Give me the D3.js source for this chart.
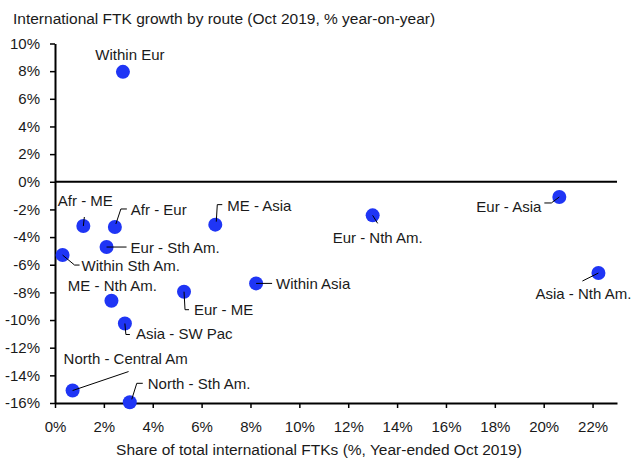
<!DOCTYPE html>
<html>
<head>
<meta charset="utf-8">
<script src="https://cdn.jsdelivr.net/npm/d3@7"></script>
<style>
  html, body { margin: 0; padding: 0; background: #fff; }
  svg { display: block; font-family: "Liberation Sans", Arial, sans-serif; }
</style>
</head>
<body>
<svg id="chart" width="634" height="460"></svg>
<script>
// ---- data ----
const routes = ["Within Eur", "Afr - ME", "Afr - Eur", "Eur - Sth Am.", "Within Sth Am.", "ME - Asia",
  "Eur - ME", "Within Asia", "ME - Nth Am.", "Asia - SW Pac", "North - Central Am", "North - Sth Am.",
  "Eur - Nth Am.", "Eur - Asia", "Asia - Nth Am."];
const share = [2.78, 1.16, 2.45, 2.11, 0.31, 6.56, 5.28, 8.23, 2.31, 2.86, 0.72, 3.06, 13.0, 20.64, 22.24];
const growth = [7.95, -3.2, -3.27, -4.72, -5.3, -3.1, -7.95, -7.35, -8.6, -10.25, -15.1, -15.95, -2.43, -1.1, -6.6];
const xTicks = [0, 2, 4, 6, 8, 10, 12, 14, 16, 18, 20, 22];
const yTicks = [-16, -14, -12, -10, -8, -6, -4, -2, 0, 2, 4, 6, 8, 10];
const title = "International FTK growth by route (Oct 2019, % year-on-year)";
const xTitle = "Share of total international FTKs (%, Year-ended Oct 2019)";

// ---- label layout (pixel offsets relative to point) ----
const labelLayout = [
  { dx: 7, dy: -12, anchor: "middle", leader: null },
  { dx: 2, dy: -20, anchor: "middle", leader: [[1, -9], [0, 0]] },
  { dx: 16, dy: -12, anchor: "start", leader: [[12, -18], [6, -18], [1, -3]] },
  { dx: 24, dy: 6, anchor: "start", leader: [[0, 0], [20, 0]] },
  { dx: 19, dy: 16, anchor: "start", leader: [[0, 0], [12, 10], [17, 10]] },
  { dx: 12, dy: -14, anchor: "start", leader: [[7, -20], [2, -20], [1, -3]] },
  { dx: 10, dy: 23, anchor: "start", leader: [[0, 0], [1, 18], [5, 18]] },
  { dx: 20, dy: 6, anchor: "start", leader: [[0, 0], [16, 0]] },
  { dx: 1, dy: -10, anchor: "middle", leader: null },
  { dx: 11, dy: 16, anchor: "start", leader: [[0, 0], [1, 11], [5, 11]] },
  { dx: -9, dy: -27, anchor: "start", leader: [[0, 0], [56, -19]] },
  { dx: 18, dy: -13, anchor: "start", leader: [[2, -3], [7, -19], [13, -19]] },
  { dx: -40, dy: 28, anchor: "start", leader: [[0, 0], [5, 8]] },
  { dx: -18, dy: 15, anchor: "end", leader: [[0, 0], [-8, 6], [-15, 6]] },
  { dx: -15, dy: 26, anchor: "middle", leader: [[0, 0], [-16, 8]] }
];

const svg = d3.select("#chart");
const mLeft = 55, mRight = 617, mTop = 43.5, mBottom = 403;
const x = d3.scaleLinear().domain([0, 23]).range([mLeft, mRight]);
const y = d3.scaleLinear().domain([-16, 10]).range([mBottom, mTop]);
const pct = d => String(d) + "%";
const textColor = "#1a1a1a";

// title
svg.append("text").attr("x", 13).attr("y", 24)
  .attr("font-size", 15.5).attr("fill", textColor).text(title);

// y axis
const yAxis = svg.append("g").attr("transform", `translate(${mLeft},0)`)
  .call(d3.axisLeft(y).tickValues(yTicks).tickFormat(pct).tickSize(5).tickPadding(10).tickSizeOuter(0));
// x axis
const xAxis = svg.append("g").attr("transform", `translate(0,${mBottom})`)
  .call(d3.axisBottom(x).tickValues(xTicks).tickFormat(pct).tickSize(5).tickPadding(13).tickSizeOuter(0));

[yAxis, xAxis].forEach(a => {
  a.selectAll("path.domain").attr("stroke", "#000").attr("stroke-width", 2);
  a.selectAll(".tick line").attr("stroke", "#000").attr("stroke-width", 1.5);
  a.selectAll(".tick text").attr("font-size", 15).attr("fill", textColor)
    .attr("font-family", "'Liberation Sans', Arial, sans-serif");
});

// zero line
svg.append("line").attr("x1", mLeft).attr("x2", mRight)
  .attr("y1", y(0)).attr("y2", y(0)).attr("stroke", "#000").attr("stroke-width", 2);

// x axis title
svg.append("text").attr("x", 319).attr("y", 455).attr("text-anchor", "middle")
  .attr("font-size", 15.5).attr("fill", textColor).text(xTitle);

const pts = routes.map((r, i) => ({ name: r, sx: share[i], gy: growth[i], lay: labelLayout[i] }));

// points
svg.append("g").selectAll("circle").data(pts).join("circle")
  .attr("cx", d => x(d.sx)).attr("cy", d => y(d.gy)).attr("r", 7)
  .attr("fill", "#1f35f5");

// leaders
const line = d3.line();
svg.append("g").selectAll("path").data(pts.filter(d => d.lay.leader)).join("path")
  .attr("d", d => line(d.lay.leader.map(p => [x(d.sx) + p[0], y(d.gy) + p[1]])))
  .attr("fill", "none").attr("stroke", "#000").attr("stroke-width", 1);

// labels
svg.append("g").selectAll("text").data(pts).join("text")
  .attr("x", d => x(d.sx) + d.lay.dx).attr("y", d => y(d.gy) + d.lay.dy)
  .attr("text-anchor", d => d.lay.anchor)
  .attr("font-size", 15).attr("fill", textColor).text(d => d.name);
</script>
</body>
</html>
